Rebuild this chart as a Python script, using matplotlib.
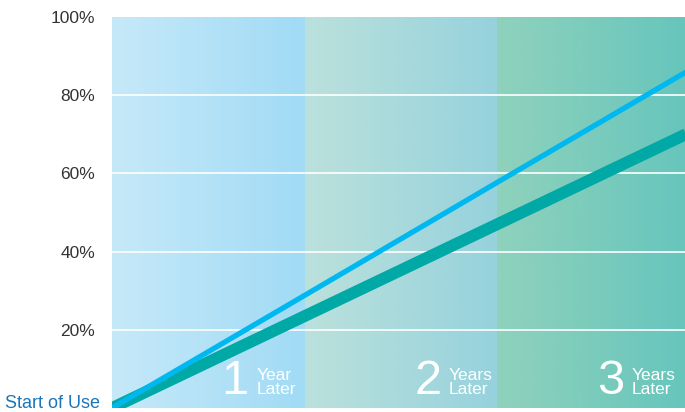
import numpy as np
import matplotlib.pyplot as plt
from matplotlib.colors import LinearSegmentedColormap

years = [0, 1, 2, 3]
blue_line = [0, 28.8, 57.7, 86.5]
teal_line = [0, 23.5, 47, 70.5]
yticks = [20, 40, 60, 80, 100]
ytick_labels = ['20%', '40%', '60%', '80%', '100%']
panel_nums = ['1', '2', '3']
panel_words = ['Year\nLater', 'Years\nLater', 'Years\nLater']

panel_colors = [('#c6e9f9', '#a1dbf5'), ('#bbe1dc', '#96d2dc'), ('#8fd2bc', '#66c5bc')]

plt.rcParams['font.family'] = ['Liberation Sans Narrow', 'Liberation Sans', 'DejaVu Sans']

fig = plt.figure(figsize=(6.85, 4.12), dpi=100)
ax = fig.add_axes([112 / 685, 4 / 412, 1 - 112 / 685, 391 / 412])

grad = np.linspace(0, 1, 256).reshape(1, -1)
for i, (c0, c1) in enumerate(panel_colors):
    cmap = LinearSegmentedColormap.from_list('p%d' % i, [c0, c1])
    ax.imshow(grad, cmap=cmap, aspect='auto', extent=[i, i + 1, 0, 100], zorder=0)

for y in yticks[:-1]:
    ax.axhline(y, color='white', lw=1.2, zorder=1)

ax.plot(years, blue_line, color='#00b8f0', lw=3.8, solid_capstyle='butt', zorder=3)
ax.plot(years, teal_line, color='#00a9a6', lw=8.5, solid_capstyle='butt', zorder=2)

for i in range(3):
    x = i + (0.71 if i < 2 else 0.66)
    ax.text(x, 6.8, panel_nums[i], color='white', fontsize=35, ha='right', va='center', zorder=4)
    ax.text(x + 0.04, 6.5, panel_words[i], color='white', fontsize=12.5, ha='left', va='center',
            linespacing=0.85, zorder=4)

ax.set_xlim(0, 2.975)
ax.set_ylim(0, 100)
ax.set_xticks([])
ax.set_yticks(yticks)
ax.set_yticklabels(ytick_labels, fontsize=12.5, color='#333333')
ax.tick_params(axis='y', length=0, pad=12)
for s in ax.spines.values():
    s.set_visible(False)

fig.text(100 / 685, 9 / 412, 'Start of Use', color='#1b75bb', fontsize=13, ha='right', va='center')

fig.savefig('out.png', dpi=100)
